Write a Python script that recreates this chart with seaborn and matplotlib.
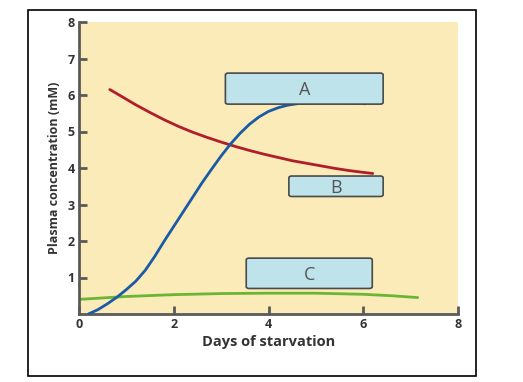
import numpy as np
import pandas as pd
import matplotlib.pyplot as plt
import seaborn as sns
from matplotlib.patches import FancyBboxPatch, Rectangle

# curves
days_red = [0.65, 0.9, 1.2, 1.5, 1.8, 2.1, 2.4, 2.7, 3.0, 3.3, 3.6, 3.9, 4.2, 4.5, 4.8, 5.1, 5.4, 5.7, 6.0, 6.2]
conc_red = [6.15, 5.96, 5.73, 5.52, 5.32, 5.14, 4.98, 4.84, 4.71, 4.59, 4.48, 4.38, 4.29, 4.2, 4.13, 4.06, 3.99, 3.93, 3.88, 3.85]

days_blue = [0.2, 0.4, 0.6, 0.8, 1.0, 1.2, 1.4, 1.6, 1.8, 2.0, 2.2, 2.4, 2.6, 2.8, 3.0, 3.2,
             3.4, 3.6, 3.8, 4.0, 4.2, 4.4, 4.6, 4.8, 5.0, 5.5, 6.05]
conc_blue = [0.0, 0.12, 0.28, 0.46, 0.67, 0.9, 1.2, 1.58, 2.0, 2.4, 2.8, 3.2, 3.6, 3.97, 4.33, 4.66,
             4.95, 5.2, 5.4, 5.55, 5.65, 5.72, 5.76, 5.78, 5.79, 5.79, 5.76]

days_green = [0.0, 1.0, 2.0, 3.0, 4.0, 5.0, 6.0, 6.6, 7.15]
conc_green = [0.4, 0.48, 0.53, 0.56, 0.57, 0.57, 0.54, 0.5, 0.45]

xticks = [0, 2, 4, 6, 8]
yticks = [1, 2, 3, 4, 5, 6, 7, 8]
box_labels = ['A', 'B', 'C']

sns.set_style('ticks')
plt.rcParams['font.family'] = ['Open Sans', 'DejaVu Sans']

fig = plt.figure(figsize=(5.23, 3.82), dpi=100)
ax = fig.add_axes([79 / 523, 68 / 382, 379 / 523, 292 / 382])

# outer frame
fig.patches.append(Rectangle((28 / 523, 6 / 382), 448 / 523, 366 / 382, transform=fig.transFigure,
                             fill=False, edgecolor='black', linewidth=1.2))

ax.set_facecolor('#faebb8')

dfr = pd.DataFrame({'x': days_red, 'y': conc_red})
dfb = pd.DataFrame({'x': days_blue, 'y': conc_blue})
dfg = pd.DataFrame({'x': days_green, 'y': conc_green})

sns.lineplot(data=dfg, x='x', y='y', ax=ax, color='#6ab536', linewidth=2, zorder=2)
sns.lineplot(data=dfr, x='x', y='y', ax=ax, color='#b01e2c', linewidth=2, zorder=3)
sns.lineplot(data=dfb, x='x', y='y', ax=ax, color='#1a5aa6', linewidth=2, zorder=3)

# label boxes
boxes = [(3.09, 5.75, 3.33, 0.85), (4.43, 3.22, 1.99, 0.56), (3.53, 0.7, 2.66, 0.83)]
for (bx, by, bw, bh), lab in zip(boxes, box_labels):
    p = FancyBboxPatch((bx, by), bw, bh, boxstyle='round,pad=0,rounding_size=0.06',
                       facecolor='#bfe3ea', edgecolor='#4a4a4a', linewidth=1.2, zorder=4,
                       mutation_aspect=0.8)
    ax.add_patch(p)
    ax.text(bx + bw / 2, by + bh / 2 - 0.05, lab, ha='center', va='center', fontsize=13,
            color='#555555', zorder=5)

ax.set_xlim(0, 8)
ax.set_ylim(0, 8)
ax.set_xticks(xticks)
ax.set_yticks(yticks)
ax.tick_params(direction='in', length=6, width=2, color='#5a5a5a', labelsize=9,
               labelcolor='#333333', pad=3)
for t in ax.get_xticklabels() + ax.get_yticklabels():
    t.set_fontweight('bold')

sns.despine(ax=ax)
for s in ['left', 'bottom']:
    ax.spines[s].set_color('#5a5a5a')
    ax.spines[s].set_linewidth(2)

ax.set_xlabel('Days of starvation', fontsize=10.5, fontweight='bold', color='#333333', labelpad=3)
ax.set_ylabel('Plasma concentration (mM)', fontsize=9, fontweight='bold', color='#333333', labelpad=5)

fig.savefig('out.png', dpi=100)
